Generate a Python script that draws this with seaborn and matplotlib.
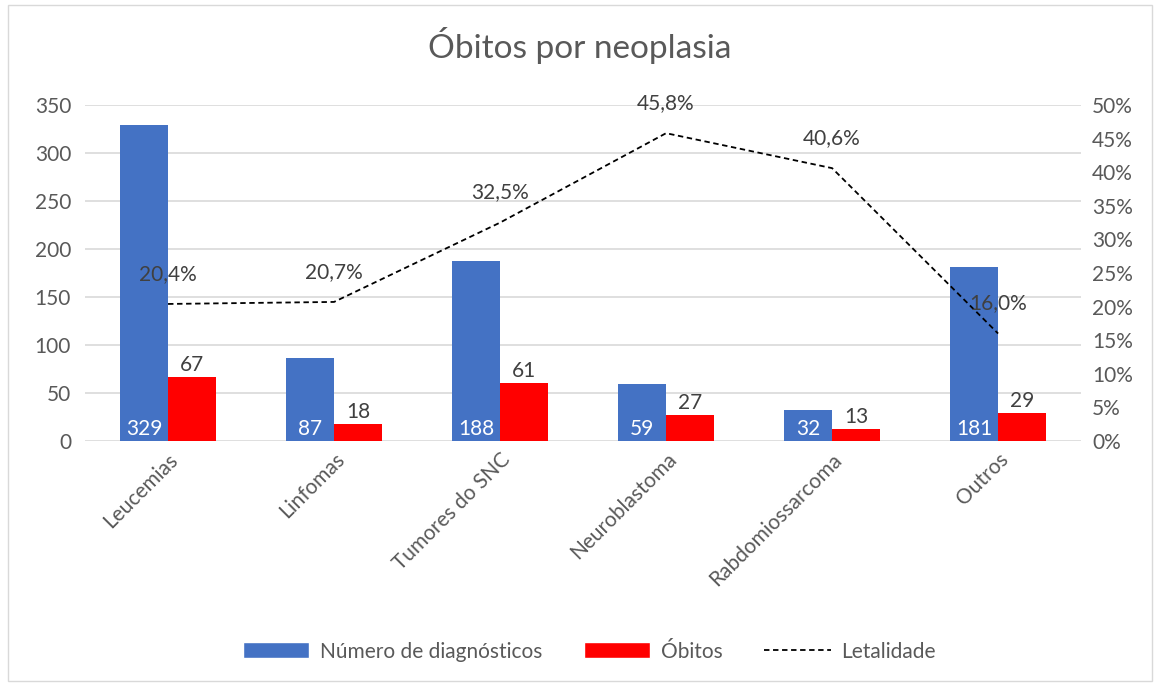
import numpy as np
import pandas as pd
import matplotlib
matplotlib.use("Agg")
import matplotlib.pyplot as plt
import seaborn as sns
from matplotlib.patches import Rectangle, Patch
from matplotlib.lines import Line2D
from matplotlib.ticker import PercentFormatter

# Dados
categorias = ["Leucemias", "Linfomas", "Tumores do SNC", "Neuroblastoma", "Rabdomiossarcoma", "Outros"]
diagnosticos = [329, 87, 188, 59, 32, 181]
obitos = [67, 18, 61, 27, 13, 29]
letalidade = [20.4, 20.7, 32.5, 45.8, 40.6, 16.0]

sns.set_theme(style="white")
plt.rcParams["font.family"] = ["Lato", "DejaVu Sans"]
cinza = "#595959"
fs = 15

df = pd.DataFrame({
    "categoria": categorias * 2,
    "valor": diagnosticos + obitos,
    "serie": ["Número de diagnósticos"] * 6 + ["Óbitos"] * 6,
})

fig = plt.figure(figsize=(11.6, 6.86), dpi=100)
ax = fig.add_axes([0.0733, 0.357, 0.8587, 0.49])

sns.barplot(data=df, x="categoria", y="valor", hue="serie",
            palette=["#4472C4", "#FF0000"], width=0.58, ax=ax,
            saturation=1, legend=False, zorder=3, linewidth=0)

ax.set_ylim(0, 350)
ax.set_yticks(range(0, 351, 50))
ax.set_xlim(-0.5, 5.5)
ax.yaxis.grid(True, color="#D9D9D9", linewidth=1.2, zorder=0)
ax.set_axisbelow(True)
for s in ax.spines.values():
    s.set_visible(False)
ax.set_xlabel("")
ax.set_ylabel("")
ax.tick_params(axis="y", length=0, labelsize=fs, colors=cinza, pad=10)
ax.tick_params(axis="x", length=0, labelsize=fs, colors=cinza, pad=6)
ax.set_xticks(range(len(categorias)))
ax.set_xticklabels(categorias, rotation=45, ha="right", rotation_mode="anchor")

# Rótulos das barras
x = np.arange(len(categorias))
for i in range(len(categorias)):
    ax.text(x[i] - 0.145, 2, str(diagnosticos[i]), ha="center", va="bottom",
            color="white", fontsize=fs, zorder=5)
    ax.text(x[i] + 0.145, obitos[i] + 2, str(obitos[i]), ha="center", va="bottom",
            color="#404040", fontsize=fs, zorder=5)

# Letalidade (eixo secundário)
ax2 = ax.twinx()
ax2.plot(x, letalidade, color="black", linestyle=(0, (3, 2)), linewidth=1.3, zorder=4)
ax2.set_ylim(0, 50)
ax2.set_yticks(range(0, 51, 5))
ax2.yaxis.set_major_formatter(PercentFormatter(decimals=0))
ax2.tick_params(axis="y", length=0, labelsize=fs, colors=cinza, pad=8)
for s in ax2.spines.values():
    s.set_visible(False)
for i, v in enumerate(letalidade):
    ax2.text(x[i], v + 3.0, f"{v:.1f}%".replace(".", ","), ha="center", va="bottom",
             color="#404040", fontsize=fs, zorder=6)

fig.suptitle("Óbitos por neoplasia", y=0.96, fontsize=24, color=cinza)

handles = [
    Patch(facecolor="#4472C4", label="Número de diagnósticos"),
    Patch(facecolor="#FF0000", label="Óbitos"),
    Line2D([0], [0], color="black", linestyle=(0, (3, 2)), linewidth=1.3, label="Letalidade"),
]
leg = fig.legend(handles=handles, loc="center", bbox_to_anchor=(0.508, 0.05), ncol=3,
                 frameon=False, fontsize=fs, handlelength=3.2, handleheight=0.8,
                 columnspacing=2.0, handletextpad=0.5)
for t in leg.get_texts():
    t.set_color(cinza)

fig.patches.append(Rectangle((0.007, 0.008), 0.986, 0.984, transform=fig.transFigure,
                             fill=False, edgecolor="#D9D9D9", linewidth=1))

fig.savefig("out.png", dpi=100)
